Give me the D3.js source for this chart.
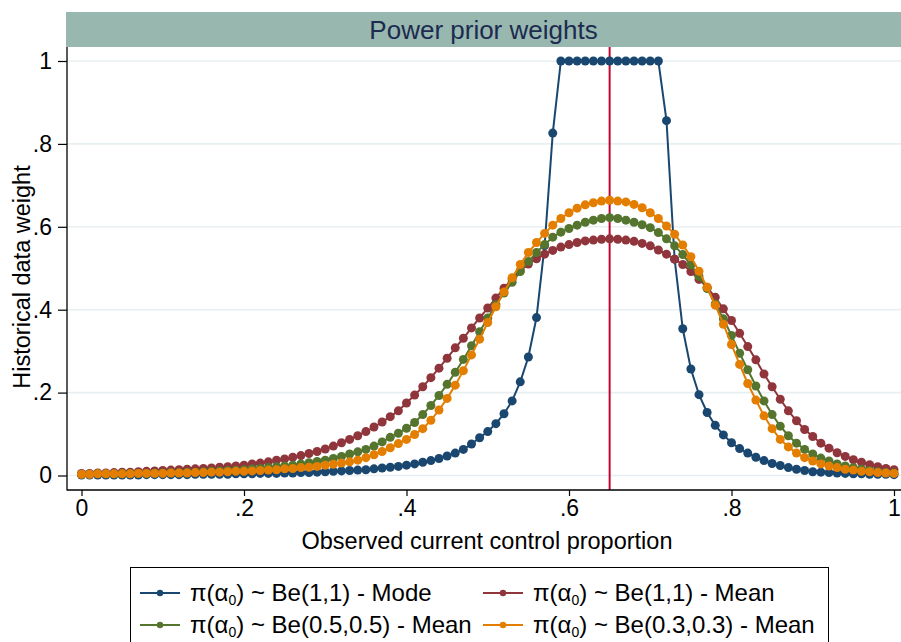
<!DOCTYPE html>
<html>
<head>
<meta charset="utf-8">
<script src="https://cdn.jsdelivr.net/npm/d3@7"></script>
<style>
  body { margin: 0; background: #fff; }
  svg { display: block; font-family: "Liberation Sans", Arial, sans-serif; }
</style>
</head>
<body>
<svg id="chart" width="901" height="642"></svg>
<script>
// Observed current control proportion (x grid)
const proportion = [
  0.00,0.01,0.02,0.03,0.04,0.05,0.06,0.07,0.08,0.09,
  0.10,0.11,0.12,0.13,0.14,0.15,0.16,0.17,0.18,0.19,
  0.20,0.21,0.22,0.23,0.24,0.25,0.26,0.27,0.28,0.29,
  0.30,0.31,0.32,0.33,0.34,0.35,0.36,0.37,0.38,0.39,
  0.40,0.41,0.42,0.43,0.44,0.45,0.46,0.47,0.48,0.49,
  0.50,0.51,0.52,0.53,0.54,0.55,0.56,0.57,0.58,0.59,
  0.60,0.61,0.62,0.63,0.64,0.65,0.66,0.67,0.68,0.69,
  0.70,0.71,0.72,0.73,0.74,0.75,0.76,0.77,0.78,0.79,
  0.80,0.81,0.82,0.83,0.84,0.85,0.86,0.87,0.88,0.89,
  0.90,0.91,0.92,0.93,0.94,0.95,0.96,0.97,0.98,0.99,
  1.00
];

// Historical data weight, Be(1,1) prior, posterior mode
const modeBe11 = [
  0.001,0.001,0.001,0.001,0.001,0.001,0.001,0.001,0.002,0.002,
  0.002,0.002,0.002,0.002,0.003,0.003,0.003,0.003,0.003,0.004,
  0.004,0.004,0.005,0.005,0.005,0.006,0.006,0.007,0.007,0.008,
  0.009,0.010,0.011,0.012,0.013,0.014,0.016,0.018,0.020,0.022,
  0.025,0.028,0.032,0.036,0.041,0.047,0.054,0.063,0.076,0.091,
  0.106,0.125,0.149,0.180,0.226,0.286,0.381,0.555,0.826,1.000,
  1.000,1.000,1.000,1.000,1.000,1.000,1.000,1.000,1.000,1.000,
  1.000,1.000,0.856,0.522,0.354,0.257,0.195,0.152,0.121,0.098,
  0.079,0.065,0.054,0.044,0.036,0.029,0.024,0.019,0.015,0.012,
  0.009,0.008,0.007,0.006,0.005,0.004,0.004,0.003,0.003,0.003,
  0.002
];

// Be(1,1) prior, posterior mean
const meanBe11 = [
  0.005,0.005,0.006,0.006,0.007,0.008,0.008,0.009,0.010,0.011,
  0.012,0.013,0.014,0.015,0.016,0.017,0.018,0.020,0.021,0.023,
  0.025,0.028,0.030,0.033,0.037,0.040,0.044,0.048,0.053,0.058,
  0.064,0.071,0.079,0.087,0.096,0.106,0.117,0.129,0.142,0.156,
  0.175,0.194,0.214,0.236,0.259,0.283,0.308,0.331,0.356,0.380,
  0.404,0.428,0.452,0.474,0.494,0.510,0.523,0.534,0.543,0.551,
  0.557,0.562,0.566,0.568,0.570,0.571,0.570,0.568,0.565,0.560,
  0.554,0.544,0.534,0.522,0.509,0.492,0.473,0.454,0.430,0.402,
  0.374,0.343,0.311,0.279,0.245,0.214,0.184,0.156,0.132,0.111,
  0.094,0.078,0.066,0.055,0.046,0.038,0.032,0.026,0.021,0.017,
  0.014
];

// Be(0.5,0.5) prior, posterior mean
const meanBe0505 = [
  0.003,0.003,0.004,0.004,0.004,0.005,0.005,0.005,0.005,0.006,
  0.006,0.007,0.007,0.008,0.008,0.009,0.010,0.011,0.012,0.013,
  0.014,0.016,0.017,0.019,0.021,0.023,0.025,0.028,0.031,0.034,
  0.037,0.041,0.046,0.052,0.057,0.063,0.071,0.081,0.092,0.102,
  0.114,0.128,0.147,0.169,0.193,0.220,0.249,0.280,0.313,0.347,
  0.380,0.412,0.440,0.466,0.492,0.516,0.538,0.557,0.575,0.587,
  0.596,0.604,0.611,0.616,0.620,0.622,0.620,0.616,0.611,0.605,
  0.598,0.586,0.571,0.554,0.533,0.508,0.480,0.451,0.414,0.378,
  0.338,0.295,0.255,0.216,0.180,0.147,0.119,0.096,0.078,0.063,
  0.052,0.042,0.035,0.028,0.023,0.019,0.015,0.012,0.009,0.007,
  0.006
];

// Be(0.3,0.3) prior, posterior mean
const meanBe0303 = [
  0.003,0.003,0.004,0.004,0.004,0.004,0.004,0.005,0.005,0.005,
  0.005,0.006,0.006,0.006,0.007,0.007,0.008,0.008,0.009,0.010,
  0.010,0.011,0.012,0.013,0.014,0.016,0.017,0.019,0.020,0.022,
  0.025,0.027,0.030,0.033,0.037,0.043,0.050,0.058,0.067,0.077,
  0.087,0.099,0.113,0.133,0.158,0.186,0.218,0.253,0.291,0.329,
  0.369,0.407,0.443,0.477,0.509,0.538,0.562,0.584,0.604,0.620,
  0.634,0.645,0.653,0.658,0.662,0.664,0.662,0.660,0.654,0.646,
  0.634,0.620,0.602,0.582,0.556,0.528,0.493,0.454,0.411,0.365,
  0.316,0.268,0.222,0.182,0.144,0.113,0.087,0.069,0.054,0.043,
  0.035,0.028,0.023,0.019,0.015,0.013,0.010,0.009,0.007,0.006,
  0.005
];

const seriesNames = ["Be(1,1) - Mode", "Be(1,1) - Mean", "Be(0.5,0.5) - Mean", "Be(0.3,0.3) - Mean"];
const seriesColors = ["#1a476f", "#90353b", "#55752f", "#e37e00"];
const seriesValues = [modeBe11, meanBe11, meanBe0505, meanBe0303];

const yTicks = [0, 0.2, 0.4, 0.6, 0.8, 1];
const yTickLabels = ["0", ".2", ".4", ".6", ".8", "1"];
const xTicks = [0, 0.2, 0.4, 0.6, 0.8, 1];
const xTickLabels = ["0", ".2", ".4", ".6", ".8", "1"];
const referenceProportion = 0.65;

const chartTitle = "Power prior weights";
const xTitle = "Observed current control proportion";
const yTitle = "Historical data weight";

// ---- layout ----
const W = 901, H = 642;
const plot = { left: 67, right: 901, top: 47, bottom: 490 };
const FONT = "Liberation Sans, Arial, sans-serif";

const svg = d3.select("#chart");
const x = d3.scaleLinear().domain([0, 1]).range([81.5, 894]);
const y = d3.scaleLinear().domain([0, 1]).range([475.5, 61]);

// title band
svg.append("rect")
  .attr("x", 66).attr("y", 12)
  .attr("width", W - 66).attr("height", plot.top - 12)
  .attr("fill", "#98b7af");
svg.append("text")
  .attr("x", (66 + W) / 2).attr("y", 39)
  .attr("text-anchor", "middle")
  .attr("font-size", 26)
  .attr("fill", "#1c2b4f")
  .text(chartTitle);

// horizontal grid
svg.append("g").selectAll("line")
  .data(yTicks)
  .join("line")
  .attr("x1", plot.left).attr("x2", plot.right)
  .attr("y1", d => y(d)).attr("y2", d => y(d))
  .attr("stroke", "#e8eff2").attr("stroke-width", 1.6);

// reference line
svg.append("line")
  .attr("x1", x(referenceProportion)).attr("x2", x(referenceProportion))
  .attr("y1", plot.top).attr("y2", plot.bottom)
  .attr("stroke", "#c10534").attr("stroke-width", 2);

// axes
const yAxis = d3.axisLeft(y)
  .tickValues(yTicks)
  .tickFormat((d, i) => yTickLabels[i])
  .tickSize(9).tickSizeOuter(0).tickPadding(6);
const gy = svg.append("g").attr("transform", `translate(${plot.left},0)`).call(yAxis);
gy.select(".domain").remove();
gy.selectAll("text").attr("font-size", 23).attr("font-family", FONT).attr("fill", "#000");
gy.selectAll("line").attr("stroke", "#000").attr("stroke-width", 1.2);

const xAxis = d3.axisBottom(x)
  .tickValues(xTicks)
  .tickFormat((d, i) => xTickLabels[i])
  .tickSize(6).tickSizeOuter(0).tickPadding(4);
const gx = svg.append("g").attr("transform", `translate(0,${plot.bottom})`).call(xAxis);
gx.select(".domain").remove();
gx.selectAll("text").attr("font-size", 23).attr("font-family", FONT).attr("fill", "#000");
gx.selectAll("line").attr("stroke", "#000").attr("stroke-width", 1.2);

svg.append("line")
  .attr("x1", plot.left).attr("x2", plot.left)
  .attr("y1", plot.top).attr("y2", plot.bottom + 0.5)
  .attr("stroke", "#000").attr("stroke-width", 1.3);
svg.append("line")
  .attr("x1", plot.left).attr("x2", plot.right)
  .attr("y1", plot.bottom).attr("y2", plot.bottom)
  .attr("stroke", "#000").attr("stroke-width", 1.3);

// axis titles
svg.append("text")
  .attr("x", 487).attr("y", 549)
  .attr("text-anchor", "middle").attr("font-size", 23.5)
  .text(xTitle);
svg.append("text")
  .attr("transform", `translate(30,277) rotate(-90)`)
  .attr("text-anchor", "middle").attr("font-size", 23.5)
  .text(yTitle);

// series
const line = d3.line().x((d, i) => x(proportion[i])).y(d => y(d));
seriesValues.forEach((vals, k) => {
  const g = svg.append("g");
  g.append("path")
    .datum(vals)
    .attr("d", line)
    .attr("fill", "none")
    .attr("stroke", seriesColors[k])
    .attr("stroke-width", 2);
  g.selectAll("circle")
    .data(vals)
    .join("circle")
    .attr("cx", (d, i) => x(proportion[i]))
    .attr("cy", d => y(d))
    .attr("r", 4.5)
    .attr("fill", seriesColors[k]);
});

// legend
const legend = svg.append("g");
legend.append("rect")
  .attr("x", 130.5).attr("y", 567.5)
  .attr("width", 698).attr("height", 90)
  .attr("fill", "#fff").attr("stroke", "#000").attr("stroke-width", 1);

const colX = [140, 483];
const rowY = [593, 625];
seriesNames.forEach((name, k) => {
  const cx = colX[k % 2], cy = rowY[Math.floor(k / 2)];
  const item = legend.append("g");
  item.append("line")
    .attr("x1", cx).attr("x2", cx + 40)
    .attr("y1", cy).attr("y2", cy)
    .attr("stroke", seriesColors[k]).attr("stroke-width", 2);
  item.append("circle")
    .attr("cx", cx + 20).attr("cy", cy).attr("r", 3.2)
    .attr("fill", seriesColors[k]);
  const t = item.append("text")
    .attr("x", cx + 50).attr("y", cy + 8)
    .attr("font-size", 24);
  t.append("tspan").text("π(α");
  t.append("tspan").attr("font-size", 14).attr("dy", 4).text("0");
  t.append("tspan").attr("dy", -4).text(") ~ " + name);
});
</script>
</body>
</html>
